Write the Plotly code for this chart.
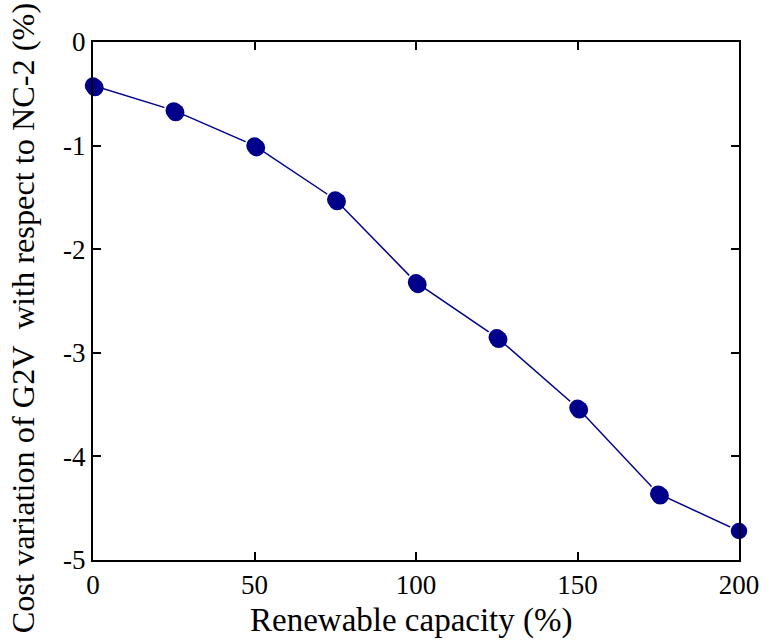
import plotly.graph_objects as go

# Renewable capacity (%) and G2V cost variation relative to NC-2 (%)
capacity = [0, 25, 50, 75, 100, 125, 150, 175, 200]
cost_variation = [-0.42, -0.66, -1.0, -1.52, -2.32, -2.85, -3.53, -4.36, -4.72]
x_ticks = [0, 50, 100, 150, 200]
y_ticks = [0, -1, -2, -3, -4, -5]
y_tick_text = [str(v) for v in y_ticks]

navy = "#00008B"
font = "Liberation Serif"

fig = go.Figure()

# Line plus the outlined back layer of each marker
fig.add_trace(go.Scatter(
    x=capacity, y=cost_variation, mode="lines+markers",
    line=dict(color=navy, width=1.5),
    marker=dict(size=18, color=navy, line=dict(color="white", width=1.5)),
    cliponaxis=False, showlegend=False,
))
# Solid front layer on a slightly shifted overlay axis for a shaded-ball look
fig.add_trace(go.Scatter(
    x=capacity, y=cost_variation, mode="markers",
    marker=dict(size=17.5, color=navy),
    xaxis="x2", yaxis="y2", cliponaxis=False, showlegend=False, hoverinfo="skip",
))

axis_common = dict(
    showgrid=False, zeroline=False, showline=True, linecolor="black", linewidth=2,
    mirror="ticks", ticks="inside", ticklen=8, tickwidth=1.5, tickcolor="black",
    ticklabeloverflow="allow",
    tickfont=dict(family=font, size=27, color="black"),
)

fig.update_layout(
    width=771, height=641,
    margin=dict(l=93, r=20, t=42, b=81),
    plot_bgcolor="white", paper_bgcolor="white",
    xaxis=dict(range=[0, 200], tickvals=x_ticks, **axis_common),
    yaxis=dict(range=[-5, 0], tickvals=y_ticks, ticktext=y_tick_text, **axis_common),
    xaxis2=dict(range=[-0.6, 199.4], overlaying="x", visible=False),
    yaxis2=dict(range=[-4.98, 0.02], overlaying="y", visible=False),
    annotations=[
        dict(text="Renewable capacity (%)", xref="paper", yref="paper",
             x=0.493, y=-0.116, xanchor="center", yanchor="middle", showarrow=False,
             font=dict(family=font, size=33, color="black")),
        dict(text="Cost variation of G2V\u00a0 with respect to NC-2 (%)", xref="paper", yref="paper",
             x=-0.108, y=0.467, xanchor="center", yanchor="middle", textangle=-90,
             showarrow=False, font=dict(family=font, size=32.3, color="black")),
    ],
)

fig.write_html("out.html")
